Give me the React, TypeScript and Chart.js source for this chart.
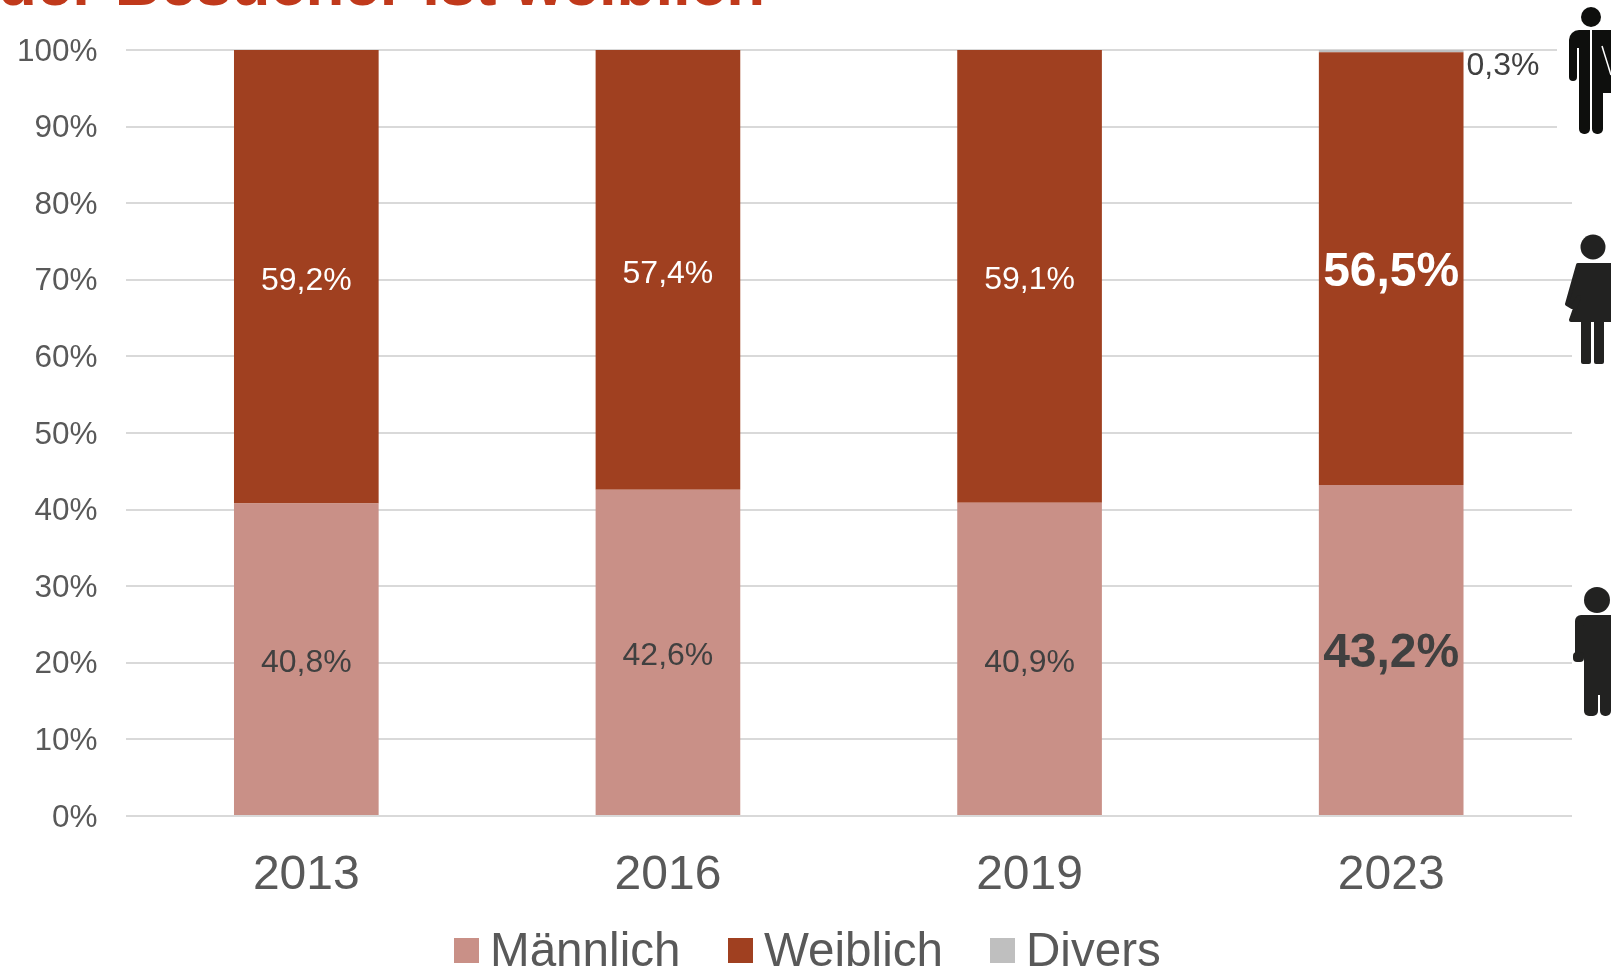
import React, { useEffect, useRef } from "react";
import { Chart, registerables } from "chart.js";

Chart.register(...registerables);

const titleText = "der Besucher ist weiblich";
const categories = ["2013", "2016", "2019", "2023"];
const maleValues = [40.8, 42.6, 40.9, 43.2];
const femaleValues = [59.2, 57.4, 59.1, 56.5];
const diverseValues = [0, 0, 0, 0.3];
const seriesNames = ["Männlich", "Weiblich", "Divers"];
const seriesColors = ["#C99087", "#A04020", "#BFBFBF"];
const labelColors = ["#404040", "#FFFFFF", "#404040"];
const FONT = '"Liberation Sans", Arial, sans-serif';

const fmt = (v: number) => v.toFixed(1).replace(".", ",") + "%";

function limb(ctx: CanvasRenderingContext2D, x: number, y: number, w: number, h: number, r: any) {
  ctx.beginPath();
  ctx.roundRect(x, y, w, h, r);
  ctx.fill();
}

function drawDiverseIcon(ctx: CanvasRenderingContext2D) {
  ctx.fillStyle = "#FFFFFF";
  ctx.fillRect(1557, 0, 54, 140);
  ctx.fillStyle = "#0E0F0D";
  ctx.beginPath();
  ctx.arc(1591, 17, 10, 0, Math.PI * 2);
  ctx.fill();
  limb(ctx, 1569, 30, 21, 18, [10, 0, 0, 0]);
  limb(ctx, 1569, 40, 8, 41, [0, 0, 4, 4]);
  limb(ctx, 1579, 40, 11, 94, [0, 0, 5, 5]);
  limb(ctx, 1592, 86, 11, 48, [0, 0, 5, 5]);
  ctx.beginPath();
  ctx.moveTo(1592, 30);
  ctx.lineTo(1611, 30);
  ctx.lineTo(1611, 93);
  ctx.lineTo(1592, 93);
  ctx.closePath();
  ctx.fill();
  ctx.strokeStyle = "#FFFFFF";
  ctx.lineWidth = 1.5;
  ctx.beginPath();
  ctx.moveTo(1602, 46);
  ctx.lineTo(1611, 75);
  ctx.stroke();
}

function drawFemaleIcon(ctx: CanvasRenderingContext2D) {
  ctx.fillStyle = "#222221";
  ctx.strokeStyle = "#222221";
  ctx.lineJoin = "round";
  ctx.lineWidth = 4;
  ctx.beginPath();
  ctx.arc(1593, 247, 12.5, 0, Math.PI * 2);
  ctx.fill();
  ctx.beginPath();
  ctx.moveTo(1578, 265);
  ctx.lineTo(1611, 265);
  ctx.lineTo(1611, 320);
  ctx.lineTo(1571, 320);
  ctx.lineTo(1579, 297);
  ctx.lineTo(1572, 307);
  ctx.lineTo(1567, 304);
  ctx.closePath();
  ctx.fill();
  ctx.stroke();
  limb(ctx, 1581, 320, 10, 44, [0, 0, 2, 2]);
  limb(ctx, 1594, 320, 10, 44, [0, 0, 2, 2]);
}

function drawMaleIcon(ctx: CanvasRenderingContext2D) {
  ctx.fillStyle = "#222221";
  ctx.beginPath();
  ctx.arc(1597, 600, 13, 0, Math.PI * 2);
  ctx.fill();
  limb(ctx, 1575, 615, 36, 20, [6, 0, 0, 0]);
  limb(ctx, 1575, 625, 10, 33, 2);
  limb(ctx, 1573, 652, 11, 10, 4);
  limb(ctx, 1584, 625, 27, 70, 0);
  limb(ctx, 1584, 690, 14, 26, [0, 0, 5, 5]);
  limb(ctx, 1600, 690, 11, 26, [0, 0, 5, 5]);
}

const decorationsPlugin = {
  id: "decorations",
  afterDraw(chart: any) {
    const ctx: CanvasRenderingContext2D = chart.ctx;
    ctx.save();

    ctx.font = `bold 63.6px ${FONT}`;
    ctx.fillStyle = "#C0391B";
    ctx.textAlign = "right";
    ctx.textBaseline = "alphabetic";
    ctx.fillText(titleText, 765, 5);

    chart.data.datasets.forEach((ds: any, i: number) => {
      const meta = chart.getDatasetMeta(i);
      ds.data.forEach((v: number, j: number) => {
        if (!v) return;
        const bar = meta.data[j];
        const last = j === categories.length - 1;
        ctx.fillStyle = labelColors[i];
        ctx.textBaseline = "middle";
        if (i === 2) {
          ctx.font = `32px ${FONT}`;
          ctx.textAlign = "left";
          ctx.fillText(fmt(v), bar.x + bar.width / 2 + 3, 66);
        } else {
          ctx.font = last ? `bold 48px ${FONT}` : `32px ${FONT}`;
          ctx.textAlign = "center";
          ctx.fillText(fmt(v), bar.x, (bar.y + bar.base) / 2 + 4);
        }
      });
    });

    const legendX = [454, 728, 990];
    ctx.font = `47.6px ${FONT}`;
    ctx.textAlign = "left";
    ctx.textBaseline = "alphabetic";
    chart.data.datasets.forEach((ds: any, i: number) => {
      ctx.fillStyle = ds.backgroundColor;
      ctx.fillRect(legendX[i], 938, 25, 25);
      ctx.fillStyle = "#595959";
      ctx.fillText(ds.label, legendX[i] + 36, 966);
    });

    drawDiverseIcon(ctx);
    drawFemaleIcon(ctx);
    drawMaleIcon(ctx);
    ctx.restore();
  },
};

export default function App() {
  const ref = useRef<HTMLCanvasElement>(null);
  useEffect(() => {
    const chart = new Chart(ref.current!, {
      type: "bar",
      data: {
        labels: categories,
        datasets: [maleValues, femaleValues, diverseValues].map((data, i) => ({
          label: seriesNames[i],
          data,
          backgroundColor: seriesColors[i],
          barPercentage: 0.4,
          categoryPercentage: 1,
        })),
      },
      options: {
        responsive: false,
        animation: false,
        layout: { padding: { top: 50, right: 39, left: 0, bottom: 0 } },
        plugins: { legend: { display: false }, tooltip: { enabled: false }, title: { display: false } },
        scales: {
          x: {
            stacked: true,
            grid: { display: false },
            border: { display: false },
            ticks: { color: "#595959", font: { family: FONT, size: 48 }, padding: 23, maxRotation: 0 },
            afterFit(s: any) { s.height = 152; },
          },
          y: {
            stacked: true,
            min: 0,
            max: 100,
            grid: { color: "#D9D9D9", lineWidth: 2, drawTicks: false },
            border: { display: false },
            ticks: {
              stepSize: 10,
              color: "#595959",
              font: { family: FONT, size: 31.5 },
              padding: 28,
              labelOffset: 2,
              callback: (v: any) => v + "%",
            },
            afterFit(s: any) { s.width = 125.5; },
          },
        },
      },
      plugins: [decorationsPlugin],
    } as any);
    return () => chart.destroy();
  }, []);
  return (
    <canvas
      ref={ref}
      width={1611}
      height={968}
      style={{ position: "fixed", left: 0, top: 0, width: 1611, height: 968, display: "block" }}
    />
  );
}
